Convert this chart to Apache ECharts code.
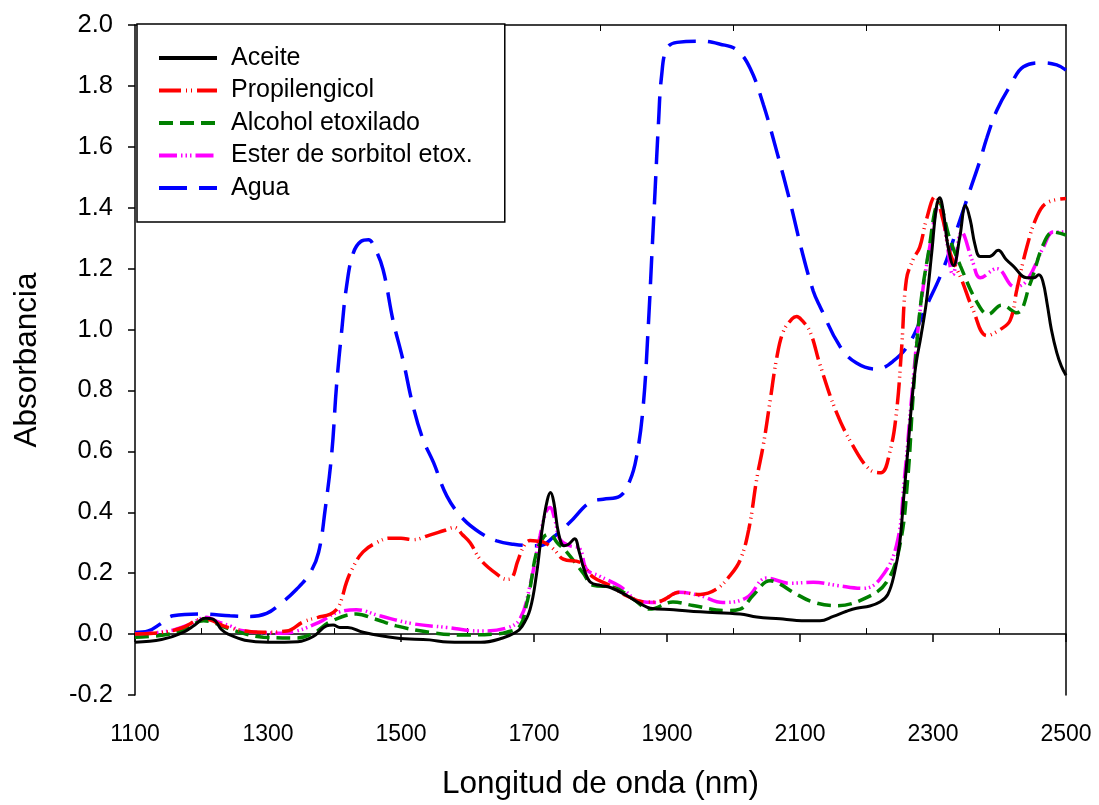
<!DOCTYPE html>
<html><head><meta charset="utf-8">
<script src="https://cdn.jsdelivr.net/npm/echarts@6/dist/echarts.min.js"></script>
<style>html,body{margin:0;padding:0;background:#fff}#c{width:1099px;height:805px}</style>
</head><body><div id="c"></div>
<script>
// ---- Data ----
const xTickLabels = [1100, 1300, 1500, 1700, 1900, 2100, 2300, 2500];
const xMinorTicks = [1200, 1400, 1600, 1800, 2000, 2200, 2400];
const seriesNames = ['Aceite', 'Propilengicol', 'Alcohol etoxilado', 'Ester de sorbitol etox.', 'Agua'];

const aceiteNm  = [1100,1140,1170,1190,1205,1218,1230,1240,1265,1300,1345,1368,1388,1398,1408,1420,1443,1493,1543,1570,1620,1653,1672,1682,1694,1704,1712,1720,1725,1730,1737,1745,1752,1761,1768,1775,1785,1800,1815,1840,1860,1875,1910,1950,2010,2035,2070,2095,2130,2150,2170,2185,2205,2220,2232,2242,2250,2256,2262,2268,2274,2282,2290,2298,2305,2310,2316,2322,2331,2340,2349,2356,2363,2371,2385,2398,2410,2420,2441,2452,2459,2465,2472,2478,2486,2493,2500];
const aceiteAbs = [-0.027,-0.018,0.003,0.03,0.052,0.048,0.015,0.0,-0.02,-0.027,-0.025,-0.008,0.027,0.03,0.022,0.022,0.006,-0.013,-0.019,-0.026,-0.027,-0.013,0.005,0.025,0.08,0.2,0.34,0.44,0.465,0.43,0.33,0.29,0.295,0.313,0.27,0.215,0.17,0.16,0.153,0.126,0.1,0.085,0.08,0.073,0.066,0.056,0.05,0.045,0.044,0.058,0.075,0.085,0.092,0.105,0.13,0.2,0.3,0.45,0.6,0.76,0.88,0.98,1.09,1.25,1.4,1.433,1.38,1.28,1.21,1.3,1.407,1.36,1.28,1.24,1.24,1.26,1.23,1.21,1.17,1.17,1.18,1.16,1.08,1.0,0.925,0.88,0.85];

const propNm  = [1100,1140,1170,1203,1215,1233,1260,1293,1328,1353,1375,1393,1403,1410,1418,1428,1443,1463,1483,1500,1518,1543,1565,1580,1593,1604,1619,1644,1659,1667,1675,1685,1694,1705,1714,1729,1744,1769,1789,1814,1839,1869,1889,1919,1950,1974,1994,2010,2023,2035,2045,2055,2065,2075,2088,2095,2103,2115,2130,2155,2180,2205,2222,2235,2245,2253,2260,2270,2280,2290,2303,2315,2326,2343,2360,2381,2401,2416,2426,2441,2456,2471,2500];
const propAbs = [0.0,0.005,0.02,0.05,0.045,0.027,0.012,0.006,0.01,0.04,0.055,0.065,0.08,0.11,0.17,0.22,0.27,0.3,0.315,0.315,0.31,0.325,0.34,0.35,0.325,0.3,0.246,0.197,0.18,0.185,0.236,0.29,0.307,0.305,0.302,0.28,0.246,0.236,0.187,0.16,0.126,0.105,0.108,0.137,0.13,0.147,0.19,0.243,0.344,0.51,0.623,0.765,0.907,0.994,1.035,1.043,1.03,0.994,0.885,0.727,0.617,0.54,0.53,0.597,0.727,0.945,1.164,1.23,1.27,1.36,1.437,1.36,1.25,1.164,1.066,0.98,1.0,1.03,1.13,1.27,1.37,1.416,1.43];

const alcoholNm  = [1100,1143,1175,1203,1215,1243,1293,1343,1370,1393,1433,1460,1493,1543,1593,1640,1659,1679,1689,1694,1704,1715,1724,1735,1749,1774,1789,1819,1849,1874,1909,1939,1989,2010,2029,2055,2070,2090,2120,2155,2200,2230,2250,2262,2270,2280,2293,2309,2325,2341,2366,2383,2403,2426,2446,2466,2481,2500];
const alcoholAbs = [-0.01,-0.003,0.015,0.044,0.04,0.016,-0.01,-0.013,0.005,0.04,0.066,0.05,0.027,0.006,-0.003,0.0,0.006,0.027,0.1,0.15,0.27,0.32,0.328,0.3,0.27,0.2,0.16,0.154,0.115,0.082,0.105,0.094,0.077,0.082,0.126,0.175,0.164,0.137,0.105,0.093,0.12,0.17,0.29,0.51,0.78,1.055,1.25,1.416,1.3,1.21,1.09,1.05,1.08,1.055,1.15,1.28,1.32,1.31];

const esterNm  = [1100,1150,1180,1208,1225,1243,1260,1318,1343,1378,1403,1433,1468,1518,1568,1619,1659,1679,1694,1709,1718,1724,1732,1739,1754,1769,1779,1799,1829,1859,1884,1919,1950,1984,2020,2050,2085,2120,2155,2195,2220,2245,2257,2268,2280,2295,2310,2320,2330,2343,2360,2371,2396,2423,2441,2466,2481,2500];
const esterAbs = [0.0,0.01,0.03,0.055,0.04,0.027,0.012,0.003,0.01,0.04,0.07,0.08,0.06,0.034,0.022,0.01,0.02,0.05,0.16,0.322,0.4,0.416,0.37,0.311,0.29,0.28,0.213,0.19,0.157,0.108,0.104,0.137,0.126,0.104,0.12,0.184,0.167,0.17,0.16,0.15,0.18,0.29,0.51,0.78,1.05,1.27,1.42,1.3,1.18,1.32,1.22,1.17,1.2,1.14,1.16,1.27,1.32,1.32];

const aguaNm  = [1100,1120,1138,1157,1202,1243,1273,1298,1318,1343,1363,1376,1386,1396,1403,1411,1418,1428,1440,1451,1460,1473,1488,1503,1518,1533,1549,1569,1594,1619,1644,1669,1699,1709,1729,1754,1784,1804,1829,1844,1854,1864,1872,1877,1882,1887,1892,1900,1915,1950,1980,2005,2025,2045,2065,2085,2103,2120,2130,2160,2185,2215,2240,2265,2290,2315,2336,2356,2371,2381,2396,2416,2436,2466,2486,2500];
const aguaAbs = [0.005,0.01,0.033,0.06,0.066,0.06,0.058,0.068,0.098,0.147,0.2,0.268,0.41,0.597,0.814,1.0,1.14,1.25,1.29,1.295,1.27,1.197,1.03,0.9,0.75,0.64,0.563,0.453,0.377,0.333,0.306,0.295,0.29,0.29,0.318,0.367,0.433,0.443,0.453,0.503,0.58,0.743,1.016,1.235,1.453,1.67,1.836,1.924,1.943,1.947,1.937,1.918,1.858,1.738,1.585,1.42,1.257,1.126,1.076,0.945,0.89,0.87,0.896,0.957,1.076,1.197,1.33,1.46,1.557,1.63,1.72,1.8,1.863,1.876,1.869,1.852];

// ---- Chart ----
function pairs(xs, ys) { return xs.map((v, i) => [v, ys[i]]); }
const FONT = "'Liberation Sans', Arial, sans-serif";
const styles = [
  { color: '#000000', width: 3,   type: 'solid' },
  { color: '#ff0000', width: 3.5, type: [22, 5, 1, 4, 1, 5] },
  { color: '#008000', width: 3.5, type: [14, 7] },
  { color: '#ff00ff', width: 3.5, type: [18, 4, 1.5, 3, 1.5, 3, 1.5, 4] },
  { color: '#0000ff', width: 3.5, type: [28, 12] }
];
const datasets = [pairs(aceiteNm, aceiteAbs), pairs(propNm, propAbs), pairs(alcoholNm, alcoholAbs), pairs(esterNm, esterAbs), pairs(aguaNm, aguaAbs)];

const chart = echarts.init(document.getElementById('c'), null, { renderer: 'canvas' });
const axisLineStyle = { color: '#000', width: 1.5 };
chart.setOption({
  backgroundColor: '#fff',
  animation: false,
  grid: { left: 135, right: 33, top: 25, bottom: 109, containLabel: false },
  legend: {
    orient: 'vertical', left: 137, top: 24,
    padding: [21, 32, 21, 20],
    itemWidth: 58, itemHeight: 14, itemGap: 6.5,
    borderColor: '#000', borderWidth: 1.5, backgroundColor: '#fff',
    itemStyle: { opacity: 0 },
    lineStyle: { width: 4 },
    textStyle: { fontFamily: FONT, fontSize: 25, color: '#000', lineHeight: 26, padding: [0, 0, 0, 9] },
    data: seriesNames
  },
  xAxis: [
    { type: 'value', position: 'bottom', min: 1100, max: 2500,
      name: 'Longitud de onda (nm)', nameLocation: 'middle', nameGap: 73,
      nameTextStyle: { fontFamily: FONT, fontSize: 31.5, color: '#000' },
      axisLine: { show: true, lineStyle: axisLineStyle },
      axisTick: { show: true, inside: false, length: 8, lineStyle: axisLineStyle, customValues: xTickLabels },
      axisLabel: { show: true, margin: 28, fontFamily: FONT, fontSize: 23, color: '#000', customValues: xTickLabels, formatter: v => String(v) },
      splitLine: { show: false } },
    { type: 'value', position: 'bottom', min: 1100, max: 2500,
      axisLine: { show: false },
      axisTick: { show: true, inside: true, length: 6, lineStyle: { color: '#000', width: 1 }, customValues: xMinorTicks },
      axisLabel: { show: false }, splitLine: { show: false } },
    { type: 'value', position: 'top', min: 1100, max: 2500,
      axisLine: { show: true, lineStyle: axisLineStyle },
      axisTick: { show: true, inside: true, length: 6, lineStyle: { color: '#000', width: 1 }, customValues: xMinorTicks },
      axisLabel: { show: false }, splitLine: { show: false } }
  ],
  yAxis: [
    { type: 'value', position: 'left', min: -0.2, max: 2.0, interval: 0.2,
      name: 'Absorbancia', nameLocation: 'middle', nameGap: 92, nameRotate: 90,
      nameTextStyle: { fontFamily: FONT, fontSize: 31.5, color: '#000' },
      axisLine: { show: true, lineStyle: axisLineStyle },
      axisTick: { show: true, inside: false, length: 7, lineStyle: axisLineStyle },
      axisLabel: { margin: 22, fontFamily: FONT, fontSize: 25.5, color: '#000', formatter: v => v.toFixed(1) },
      splitLine: { show: false } },
    { type: 'value', position: 'right', min: -0.2, max: 2.0, interval: 0.2,
      axisLine: { show: true, lineStyle: axisLineStyle },
      axisTick: { show: false }, axisLabel: { show: false }, splitLine: { show: false } }
  ],
  series: seriesNames.map((n, i) => ({
    name: n, type: 'line', xAxisIndex: 0, yAxisIndex: 0,
    data: datasets[i], showSymbol: false, symbol: 'none',
    smooth: 0.4,
    color: styles[i].color,
    lineStyle: { color: styles[i].color, width: styles[i].width, type: styles[i].type, cap: 'butt' },
    z: 10 - i
  }))
});
</script></body></html>
